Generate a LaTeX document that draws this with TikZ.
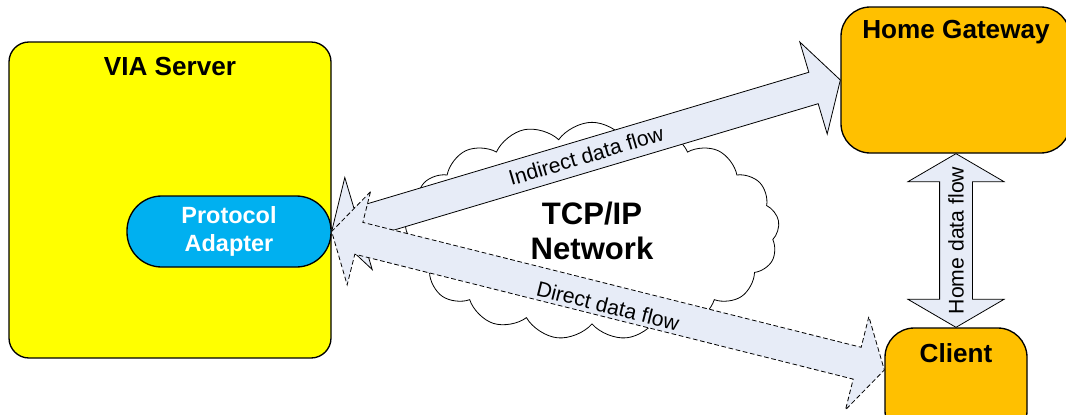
\documentclass[tikz,border=0pt]{standalone}
\usepackage{fontspec}
\setmainfont{Liberation Sans}
\usetikzlibrary{calc,shapes.symbols}
\definecolor{arrowfill}{HTML}{E7ECF7}
\definecolor{viayellow}{HTML}{FFFF00}
\definecolor{pacyan}{HTML}{00B0F0}
\definecolor{hgorange}{HTML}{FFC000}
\newcommand{\ahlen}{21pt}
\newcommand{\ahwid}{36pt}
\newcommand{\ashaft}{12.3pt}
% #1 style, #2 first end, #3 second end
\newcommand{\blockdblarrow}[3]{%
  \path[#1]
    ($(#2)!\ahlen!(#3)!\ahwid!90:(#3)$) -- (#2) --
    ($(#2)!\ahlen!(#3)!\ahwid!-90:(#3)$) --
    ($(#2)!\ahlen!(#3)!\ashaft!-90:(#3)$) --
    ($(#3)!\ahlen!(#2)!\ashaft!90:(#2)$) --
    ($(#3)!\ahlen!(#2)!\ahwid!90:(#2)$) -- (#3) --
    ($(#3)!\ahlen!(#2)!\ahwid!-90:(#2)$) --
    ($(#3)!\ahlen!(#2)!\ashaft!-90:(#2)$) --
    ($(#2)!\ahlen!(#3)!\ashaft!90:(#3)$) -- cycle;}
\begin{document}
\begin{tikzpicture}[x=0.75pt,y=-0.75pt,
  box/.style={draw=black, line width=1pt, rectangle, inner sep=0pt},
  title/.style={font=\fontsize{19.6}{23}\selectfont\bfseries, inner sep=0pt},
  flowlabel/.style={font=\fontsize{15.9}{19}\selectfont, inner sep=0pt},
  flowarrow/.style={draw=black, line width=0.6pt, fill=arrowfill, line join=miter},
  directarrow/.style={flowarrow, dash pattern=on 3.5pt off 2pt}]
\clip (0,0) rectangle (1066,414);
\node[cloud, draw=black, line width=0.6pt, fill=white, cloud puffs=17, cloud puff arc=110,
      cloud ignores aspect, minimum width=281pt, minimum height=163pt, align=center,
      font=\fontsize{23.3}{26.3}\selectfont\bfseries] (net) at (592,231) {TCP/IP\\Network};
\node[box, fill=viayellow, rounded corners=15pt, minimum width=241.5pt, minimum height=237pt] (via) at (170,200) {};
\node[title] (viat) at (170,67) {VIA Server};
\node[box, fill=pacyan, rounded corners=26pt, minimum width=153pt, minimum height=53.25pt,
      align=center, text=white, font=\fontsize{17.6}{21}\selectfont\bfseries] (pa) at (229,231.5) {Protocol\\Adapter};
\node[box, fill=hgorange, rounded corners=22pt, minimum width=171.75pt, minimum height=109.5pt] (hg) at (955.5,80) {};
\node[title] (hgt) at (956,32) {Home Gateway};
\node[box, fill=hgorange, rounded corners=22pt, minimum width=106.5pt, minimum height=84pt] (client) at (956,384) {};
\node[title] (clt) at (956,353) {Client};
\coordinate (ctip) at (client.west |- 0,370);
\coordinate (htop) at (client.north |- hg.south);
\blockdblarrow{flowarrow}{pa.east}{hg.west}
\blockdblarrow{directarrow}{pa.east}{ctip}
\blockdblarrow{flowarrow}{htop}{client.north}
\path (pa.east) -- (hg.west) node[flowlabel, midway, sloped] (ilbl) {Indirect data flow};
\path ($(pa.east)+(0,5)$) -- ($(ctip)+(0,5)$) node[flowlabel, midway, sloped] (dlbl) {Direct data flow};
\node[flowlabel, rotate=90] (hlbl) at ($(htop)!0.5!(client.north)$) {Home data flow};
\end{tikzpicture}
\end{document}
